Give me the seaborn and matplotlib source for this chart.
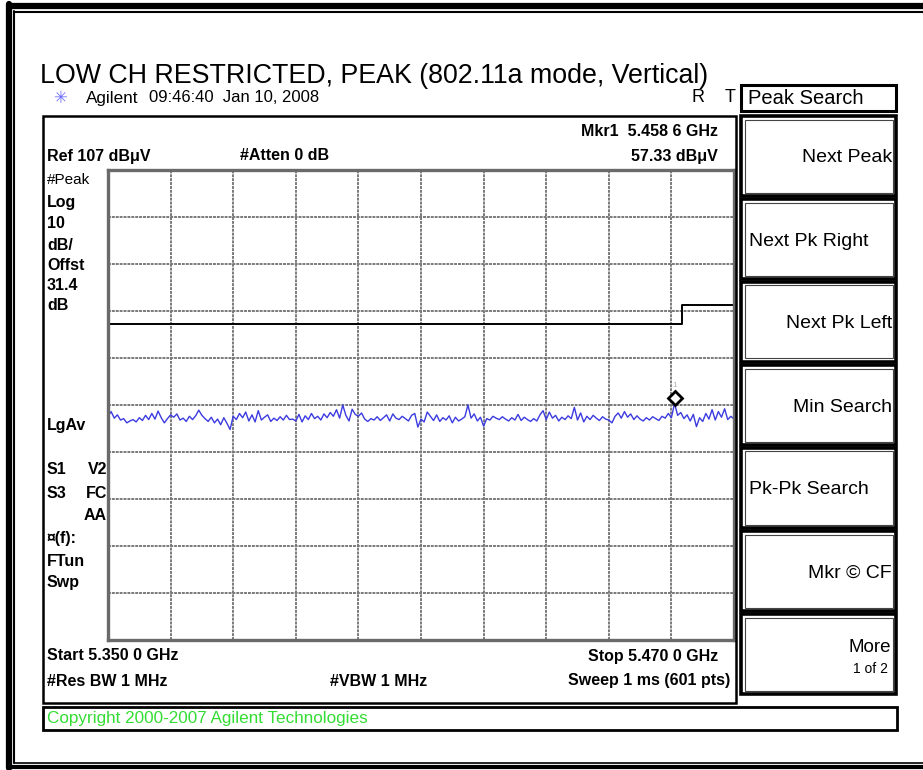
import numpy as np
import matplotlib
matplotlib.use("Agg")
import matplotlib.pyplot as plt
import matplotlib.patches as patches
import matplotlib.transforms as mtransforms
import seaborn as sns

# ---- data ----
start_ghz = 5.350
stop_ghz = 5.470
ref_level = 107      # dBuV, top of screen
db_per_div = 10

# peak trace, 201 points (one row per horizontal division)
trace_dbuv = [
    54.6, 55.6, 54.2, 54.9, 53.8, 54.1, 53.2, 53.6, 53.9, 53.4, 54.3, 53.7, 54.8, 53.9, 55.2, 54.0, 55.7, 54.3, 53.2, 54.1,
    54.9, 54.4, 55.1, 53.8, 54.2, 53.5, 54.6, 53.9, 54.7, 55.9, 54.8, 54.1, 53.5, 54.4, 53.2, 54.0, 52.8, 54.3, 53.1, 51.8,
    54.6, 53.9, 55.2, 54.3, 55.5, 53.6, 54.9, 53.4, 55.8, 53.8, 54.4, 54.9, 53.5, 54.2, 53.7, 54.5, 53.8, 54.8, 53.9, 54.0,
    53.6, 55.0, 53.4, 54.7, 53.9, 55.2, 54.1, 54.6, 53.8, 55.1, 54.3, 55.4, 54.6, 56.0, 54.2, 57.0, 54.8, 53.6, 56.1, 55.0,
    54.6, 55.3, 54.0, 53.5, 54.1, 53.8, 54.5, 53.7, 54.3, 54.9, 53.6, 55.1, 54.2, 53.9, 54.6, 54.1, 53.6, 54.8, 55.2, 52.3,
    54.0, 53.4, 55.5, 54.6, 53.7, 54.9, 53.5, 54.3, 53.8, 54.7, 53.2, 54.4, 53.6, 54.0, 54.5, 57.0, 54.2, 55.1, 53.6, 54.4,
    52.5, 54.1, 53.8, 54.6, 54.2, 53.9, 54.5, 54.0, 53.6, 54.3, 53.8, 55.0, 53.7, 54.4, 53.9, 53.5, 54.1, 53.6, 54.9, 55.8,
    53.9, 55.5, 54.2, 54.8, 53.6, 54.4, 53.9, 54.7, 54.1, 56.5, 53.8, 55.3, 53.4, 54.6, 53.9, 54.8, 54.2, 53.7, 54.5, 54.0,
    53.8, 53.2, 54.6, 55.3, 54.2, 55.6, 54.4, 55.1, 53.9, 54.7, 54.0, 53.6, 54.3, 53.8, 54.5, 54.1, 53.7, 54.6, 54.2, 55.2,
    54.3, 57.33, 54.8, 55.4, 54.1, 54.9, 53.6, 55.0, 52.4, 54.3, 53.5, 55.2, 54.0, 56.0, 53.8, 55.6, 54.4, 56.2, 53.9, 54.6,
    54.0,
]
trace_ghz = np.linspace(start_ghz, stop_ghz, len(trace_dbuv))

# restricted-band limit line
limit_ghz = [5.350, 5.460, 5.470]
limit_dbuv = [74.2, 78.3, 78.3]

marker_ghz = 5.4586
marker_dbuv = 57.33

softkeys = ["Next Peak", "Next Pk Right", "Next Pk Left", "Min Search",
            "Pk-Pk Search", "Mkr \u00a9 CF", "More"]

W, H = 923, 770
sns.set_theme(style="white")
plt.rcParams['font.family'] = ['Liberation Sans', 'DejaVu Sans']
fig = plt.figure(figsize=(W / 100, H / 100), dpi=100)
fig.patch.set_facecolor('white')
ARIAL = ['Liberation Sans', 'DejaVu Sans']


def fx(x):
    return x / W


def fy(y):
    return 1 - y / H


def box(x0, y0, x1, y1, lw=1.5, color='black', **kw):
    r = patches.Rectangle((fx(x0), fy(y1)), fx(x1) - fx(x0), fy(y0) - fy(y1),
                          transform=fig.transFigure, fill=False, lw=lw,
                          edgecolor=color, **kw)
    fig.add_artist(r)


def txt(x, y, s, size=11.5, bold=True, ha='left', color='black', family=None):
    fig.text(fx(x), fy(y), s, fontsize=size, ha=ha, va='center', color=color,
             fontweight='bold' if bold else 'normal', family=family or ARIAL)


def hline(x0, x1, y, lw, color='black'):
    fig.add_artist(plt.Line2D([fx(x0), fx(x1)], [fy(y), fy(y)], transform=fig.transFigure,
                              lw=lw, color=color))


def vline(x, y0, y1, lw, color='black'):
    fig.add_artist(plt.Line2D([fx(x), fx(x)], [fy(y0), fy(y1)], transform=fig.transFigure,
                              lw=lw, color=color))


# outer double frame
vline(9, 4, 768, 4.5)
hline(9, 923, 6, 4.5)
vline(14.5, 11, 763, 1.5)
hline(14.5, 923, 11.5, 1.5)
hline(9, 923, 767, 3)
hline(14.5, 923, 763, 1.2)

# title
txt(40, 76, "LOW CH RESTRICTED, PEAK (802.11a mode, Vertical)", size=19.3, bold=False)

# header line of the instrument
fig.text(fx(60), fy(98), "\u2733", fontsize=12, color='#7070ff', ha='center', va='center',
         family=['DejaVu Sans'])
txt(86, 98, "Agilent", size=12.3, bold=False)
txt(149, 98, "09:46:40  Jan 10, 2008", size=12, bold=False)
txt(698, 98, "R", size=13, bold=False, ha='center')
txt(730, 98, "T", size=13, bold=False, ha='center')

# instrument screen frame
box(43, 116, 736, 703, lw=1.8)

# main trace axes
ax = fig.add_axes([fx(108), fy(640), fx(734) - fx(108), fy(170) - fy(640)])
ax.set_xlim(start_ghz, stop_ghz)
ax.set_ylim(ref_level - 10 * db_per_div, ref_level)
ax.set_xticks(np.linspace(start_ghz, stop_ghz, 11))
ax.set_yticks(np.arange(ref_level - 10 * db_per_div, ref_level + 1, db_per_div))
ax.grid(True, color='#7a7a7a', lw=1.4, ls=(0, (1.5, 0.5)))
ax.tick_params(length=0, labelbottom=False, labelleft=False)
for s in ax.spines.values():
    s.set_color('#6a6a6a')
    s.set_linewidth(2.4)
ax.set_facecolor('white')

sns.lineplot(x=limit_ghz, y=limit_dbuv, ax=ax, color='black', lw=1.4,
             drawstyle='steps-post', estimator=None)
sns.lineplot(x=trace_ghz, y=trace_dbuv, ax=ax, color='#3b3be0', lw=1.0, estimator=None)

up = mtransforms.offset_copy(ax.transData, fig=fig, x=0, y=5, units='dots')
ax.plot([marker_ghz], [marker_dbuv], marker='D', ms=7, mfc='white', mec='black', mew=2,
        transform=up, clip_on=False)
ax.text(marker_ghz, marker_dbuv, "1", fontsize=6, color='#b0b0b0', ha='center',
        va='bottom', transform=mtransforms.offset_copy(ax.transData, fig=fig, x=0, y=14, units='dots'))

# texts on the screen
txt(718, 132, "Mkr1  5.458 6 GHz", ha='right')
txt(47, 156, "Ref 107 dB\u03bcV")
txt(240, 156, "#Atten 0 dB")
txt(718, 156, "57.33 dB\u03bcV", ha='right')
txt(47, 180, "#Peak", bold=False, size=11)
for y, s in [(203, "Log"), (224, "10"), (245, "dB/"), (266, "Offst"), (286, "31.4"), (306, "dB"),
             (426, "LgAv"), (470, "S1"), (493, "S3"), (539, "\u00a4(f):"), (561, "FTun"), (583, "Swp")]:
    txt(47, y, s)
txt(107, 470, "V2", ha='right')
txt(107, 493, "FC", ha='right')
txt(107, 516, "AA", ha='right')
txt(47, 656, "Start 5.350 0 GHz")
txt(718, 656, "Stop 5.470 0 GHz", ha='right')
txt(47, 681, "#Res BW 1 MHz")
txt(330, 681, "#VBW 1 MHz")
txt(730, 681, "Sweep 1 ms (601 pts)", ha='right')

# soft-key panel
box(741, 85, 896, 111, lw=2.2)
txt(748, 99, "Peak Search", size=14.5, bold=False)
key_tops = [116, 199, 282, 365, 448, 531, 614]
for top, label in zip(key_tops, softkeys):
    box(741, top, 896, top + 80, lw=2.6)
    box(744.5, top + 3.5, 892.5, top + 76.5, lw=0.8, color='#444444')
    if label == "Pk-Pk Search" or label == "Next Pk Right":
        txt(749, top + 42, label, size=14, bold=False)
    elif label == "More":
        txt(891, top + 34, label, size=13.5, bold=False, ha='right')
        txt(888, top + 55, "1 of 2", size=10, bold=False, ha='right')
    else:
        txt(892, top + 42, label, size=14, bold=False, ha='right')

# copyright bar
box(43, 707, 897, 730, lw=2.0)
txt(47, 718, "Copyright 2000-2007 Agilent Technologies", size=12.3, bold=False, color='#33dd33')

fig.savefig("out.png", dpi=100, facecolor='white')
